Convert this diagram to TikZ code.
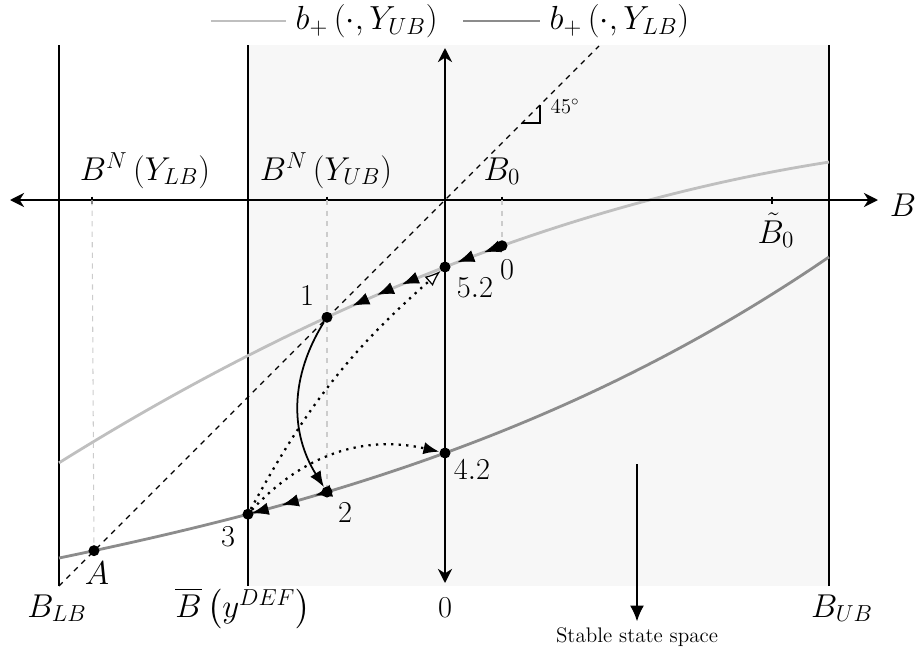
\RequirePackage{fix-cm}
\documentclass[tikz,border=0pt]{standalone}
\usepackage{amsmath,amssymb}
\usepackage{tikz}
\usetikzlibrary{arrows.meta,positioning,decorations.markings}

\begin{document}
\begin{tikzpicture}[
  declare function={ub(\x)=-1.34+0.39*\x-0.0152*\x*\x;
    lb(\x)=-5.06+0.3645*\x+0.0155*\x*\x+0.000455*\x*\x*\x;},
  lbl/.style={font=\fontsize{18.8}{22}\selectfont, inner sep=1pt},
  numlbl/.style={font=\LARGE, inner sep=1pt},
  leglbl/.style={font=\fontsize{19}{22}\selectfont, inner sep=1pt},
  bound/.style={line width=1.1pt},
  axisline/.style={line width=1.6pt, {Stealth[length=8pt,width=8pt,inset=2.5pt]}-{Stealth[length=8pt,width=8pt,inset=2.5pt]}},
  ubcurve/.style={line width=1.6pt, black!25},
  lbcurve/.style={line width=1.6pt, black!45},
  guide/.style={dashed, black!20, line width=0.6pt},
  statedot/.style={circle, fill=black, inner sep=0pt, minimum size=0.22cm},
  arr/.style={-{Latex[length=9pt,width=7pt]}},
  dotline/.style={line width=1.3pt, dash pattern=on 1.3pt off 3pt},
  marrow/.style={postaction={decorate, decoration={markings,
    mark=at position #1 with {\arrow{Latex[length=9.5pt,width=7pt]}}}}},
]
\useasboundingbox (-8.9,-9.1) rectangle (9.44,4.0);
% stable region
\fill[black!3] (-3.94,-7.72) rectangle (7.68,3.1);
\draw[bound] (-7.72,-7.72) -- (-7.72,3.1);
\draw[bound] (-3.94,-7.72) -- (-3.94,3.1);
\draw[bound] (7.68,-7.72) -- (7.68,3.1);
% 45 degree line
\draw[dashed, line width=0.7pt] (-7.72,-7.72) -- (3.08,3.08);
\draw[line width=1pt] (1.54,1.54) -- (1.9,1.54) -- (1.9,1.9);
\node[font=\large, inner sep=1pt] (ang) at (2.4,1.88) {$45^\circ$};
% policy functions
\draw[ubcurve] plot[domain=-7.72:7.68, samples=80] (\x,{ub(\x)});
\draw[lbcurve] plot[domain=-7.72:7.68, samples=80] (\x,{lb(\x)});
% axes
\draw[axisline] (-8.7,0) -- (8.66,0);
\draw[axisline] (0,-7.66) -- (0,3.04);
\coordinate (tkA) at (-7.06,0);
\coordinate (tkU) at (-2.36,0);
\coordinate (tkZ) at (1.14,0);
\coordinate (tkT) at (6.54,0);
\draw[line width=1.3pt] (-7.06,0.07) -- (-7.06,-0.07);
\draw[line width=1.3pt] (-2.36,0.07) -- (-2.36,-0.07);
\draw[line width=1.3pt] (1.14,0.07) -- (1.14,-0.07);
\draw[line width=1.3pt] (6.54,0.07) -- (6.54,-0.07);
% states
\coordinate (c0) at (1.14,{ub(1.14)});
\coordinate (c2) at (-2.36,{lb(-2.36)});
\coordinate (cA) at (-7.02,{lb(-7.02)});
\draw[guide] (tkA) -- (cA);
\draw[guide] (tkU) -- (c2);
\draw[guide] (tkZ) -- (c0);
\node[statedot] (p0) at (c0) {};
\node[statedot] (p52) at (0,{ub(0)}) {};
\node[statedot] (p1) at (-2.36,{ub(-2.36)}) {};
\node[statedot] (p42) at (0,{lb(0)}) {};
\node[statedot] (p2) at (c2) {};
\node[statedot] (p3) at (-3.94,{lb(-3.94)}) {};
\node[statedot] (pA) at (cA) {};
% transitions
\path[marrow=0.1, marrow=0.25, marrow=0.566, marrow=0.709, marrow=0.851]
  plot[domain=1.14:-2.36, samples=40] (\x,{ub(\x)});
\path[marrow=0.15, marrow=0.57, marrow=0.95]
  plot[domain=-2.36:-3.94, samples=30] (\x,{lb(\x)});
\draw[arr, line width=1pt] (p1) to[bend right=32] (p2);
\draw[dotline, -{Latex[open, fill=white, line width=0.7pt, length=9pt, width=7pt]}] (p3) to[bend left=10] (p52);
\draw[dotline, arr] (p3) to[bend left=30] (p42);
% labels
\node[numlbl] (l0) at (1.24,-1.40) {$0$};
\node[numlbl] (l52) at (0.6,-1.76) {$5.2$};
\node[numlbl] (l1) at (-2.76,-1.92) {$1$};
\node[numlbl] (l42) at (0.54,-5.4) {$4.2$};
\node[numlbl] (l2) at (-2.0,-6.26) {$2$};
\node[numlbl] (l3) at (-4.34,-6.74) {$3$};
\node[lbl] (lA) at (-6.96,-7.46) {$A$};
\node[lbl, anchor=base] (bnlb) at (-6.0,0.4) {$B^N\left(Y_{LB}\right)$};
\node[lbl, anchor=base] (bnub) at (-2.38,0.4) {$B^N\left(Y_{UB}\right)$};
\node[lbl, anchor=base] (bzero) at (1.14,0.4) {$B_0$};
\node[lbl, anchor=base] (btil) at (6.62,-0.86) {$\tilde{B}_0$};
\node[lbl] (bax) at (9.16,-0.1) {$B$};
\node[lbl, anchor=base] (blb) at (-7.76,-8.34) {$B_{LB}$};
\node[lbl, anchor=base] (bbar) at (-4.04,-8.34) {$\overline{B}\left(y^{DEF}\right)$};
\node[numlbl, anchor=base] (zero) at (0,-8.34) {$0$};
\node[lbl, anchor=base] (bub) at (7.94,-8.34) {$B_{UB}$};
\coordinate (sstop) at (3.84,-5.28);
\node[font=\large] (stable) at (3.84,-8.74) {Stable state space};
\draw[line width=0.9pt, -{Latex[length=9pt,width=8pt]}] (sstop) -- (stable);
% legend
\coordinate (lg1a) at (-4.68,3.58);
\coordinate (lg1b) at (-3.18,3.58);
\coordinate (lg2a) at (0.36,3.58);
\coordinate (lg2b) at (1.9,3.58);
\draw[ubcurve] (lg1a) -- (lg1b);
\node[leglbl, right=0.15cm of lg1b] (lg1) {$b_{+}\left(\cdot,Y_{UB}\right)$};
\draw[lbcurve] (lg2a) -- (lg2b);
\node[leglbl, right=0.15cm of lg2b] (lg2) {$b_{+}\left(\cdot,Y_{LB}\right)$};
\end{tikzpicture}
\end{document}
